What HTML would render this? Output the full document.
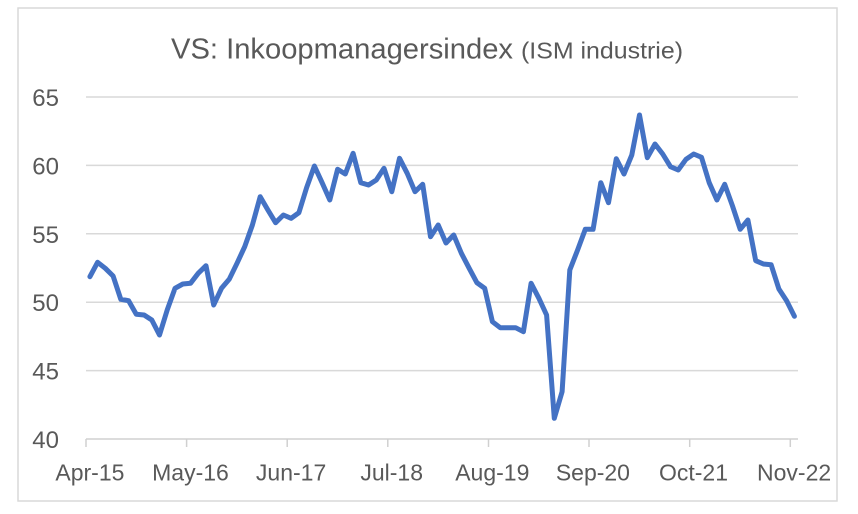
<!DOCTYPE html>
<html>
<head>
<meta charset="utf-8">
<style>
  html, body { margin: 0; padding: 0; background: #ffffff; }
  body { width: 858px; height: 514px; overflow: hidden; }
  svg { display: block; }
  text { font-family: "Liberation Sans", Arial, sans-serif; fill: #595959; }
</style>
</head>
<body>
<svg width="858" height="514" viewBox="0 0 858 514" xmlns="http://www.w3.org/2000/svg">
  <rect x="0" y="0" width="858" height="514" fill="#ffffff"/>
  <!-- chart border -->
  <rect x="18" y="8" width="819" height="493" fill="#ffffff" stroke="#d9d9d9" stroke-width="1.5"/>

  <!-- title -->
  <text x="171" y="58.5" font-size="29" textLength="342" lengthAdjust="spacingAndGlyphs">VS: Inkoopmanagersindex</text>
  <text x="521" y="58.5" font-size="23" textLength="162" lengthAdjust="spacingAndGlyphs">(ISM industrie)</text>

  <!-- gridlines -->
  <g stroke="#d9d9d9" stroke-width="1.5">
    <line x1="86" y1="97" x2="798" y2="97"/>
    <line x1="86" y1="165.4" x2="798" y2="165.4"/>
    <line x1="86" y1="233.8" x2="798" y2="233.8"/>
    <line x1="86" y1="302.2" x2="798" y2="302.2"/>
    <line x1="86" y1="370.6" x2="798" y2="370.6"/>
  </g>
  <!-- x axis -->
  <g stroke="#d0d0d0" stroke-width="1.5">
    <line x1="86" y1="439" x2="798" y2="439"/>
    <line x1="86" y1="439" x2="86" y2="447"/>
    <line x1="186.6" y1="439" x2="186.6" y2="447"/>
    <line x1="287.2" y1="439" x2="287.2" y2="447"/>
    <line x1="387.8" y1="439" x2="387.8" y2="447"/>
    <line x1="488.5" y1="439" x2="488.5" y2="447"/>
    <line x1="589" y1="439" x2="589" y2="447"/>
    <line x1="689.7" y1="439" x2="689.7" y2="447"/>
    <line x1="790.3" y1="439" x2="790.3" y2="447"/>
  </g>

  <!-- y labels -->
  <g font-size="24" text-anchor="end">
    <text x="59" y="106">65</text>
    <text x="59" y="174.4">60</text>
    <text x="59" y="242.8">55</text>
    <text x="59" y="311.2">50</text>
    <text x="59" y="379.6">45</text>
    <text x="59" y="448">40</text>
  </g>

  <!-- x labels -->
  <g font-size="23" text-anchor="middle">
    <text x="89.9" y="480.7">Apr-15</text>
    <text x="190.5" y="480.7">May-16</text>
    <text x="291.1" y="480.7">Jun-17</text>
    <text x="391.7" y="480.7">Jul-18</text>
    <text x="492.3" y="480.7">Aug-19</text>
    <text x="592.9" y="480.7">Sep-20</text>
    <text x="693.5" y="480.7">Oct-21</text>
    <text x="794.1" y="480.7">Nov-22</text>
  </g>

  <!-- series -->
  <polyline fill="none" stroke="#4472c4" stroke-width="5" stroke-linejoin="round" stroke-linecap="round"
    points="89.9,276.7 97.6,262.3 105.3,268.3 113.1,276 120.8,299.3 128.6,300.7 136.3,314.3 144.1,315 151.8,320 159.5,335 167.3,309.7 175,288.3 182.8,284 190.5,283.3 198.2,273.3 206,265.7 213.7,305 221.5,288.3 229.2,279.3 237,263.3 244.7,246.7 252.4,225 260.2,196.7 267.9,210 275.6,222.7 283.4,215 291.1,218.3 298.9,212.7 306.6,187.7 314.4,166 322.1,182.7 329.8,200 337.6,169.3 345.3,174 353.1,153.3 360.8,182.7 368.5,185 376.3,180 384,168.3 391.8,191.7 399.5,158.3 407.2,173.3 415,191.7 422.7,184.3 430.5,236.7 438.2,225 446,243 453.7,235 461.4,253.3 469.2,268.3 476.9,282.7 484.7,288.3 492.4,321.7 500.2,327.7 507.9,327.7 515.6,327.7 523.4,331.7 531.1,283.3 538.9,298.3 546.6,315 554.3,418.3 562.1,391.7 569.8,270 577.6,250 585.3,229.3 593.1,229.3 600.8,182.7 608.5,202.7 616.3,158.7 624,174 631.8,155 639.5,115 647.3,157.7 655,144 662.7,154 670.5,166.7 678.2,170 686,159.3 693.7,154 701.5,157.3 709.2,182.7 716.9,200 724.7,184.3 732.4,205.7 740.2,229.3 747.9,220 755.7,260.7 763.4,264 771.1,264.7 778.9,289 786.6,300.7 794.4,316.3"/>
</svg>
</body>
</html>
